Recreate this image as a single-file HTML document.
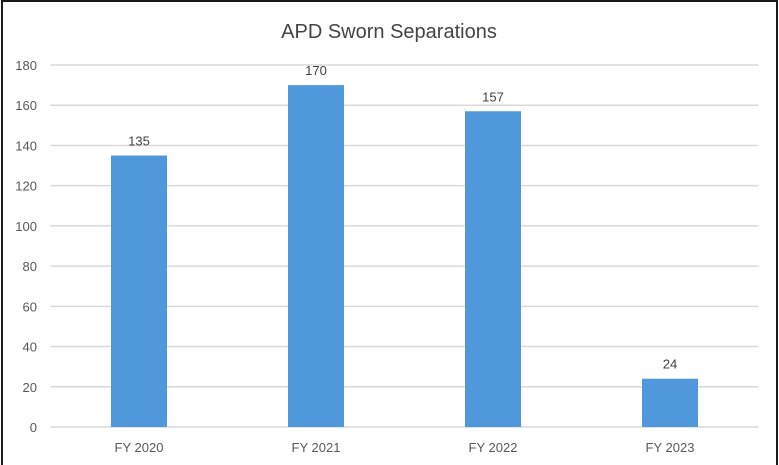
<!DOCTYPE html>
<html><head><meta charset="utf-8"><style>
html,body{margin:0;padding:0;background:#fff;}
svg{display:block;font-family:"Liberation Sans",sans-serif;}
</style></head><body>
<svg id="chart" width="779" height="465">
<rect x="2" y="1" width="775" height="470" fill="#fff" stroke="#1a1a1a" stroke-width="2"/>
<text x="389" y="38" text-anchor="middle" font-size="20" fill="#444">APD Sworn Separations</text>
<g id="grid"></g><g id="bars"></g><g id="labels"></g>
</svg>
<script>
const categories = ["FY 2020","FY 2021","FY 2022","FY 2023"];
const values = [135,170,157,24];
const yTicks = [0,20,40,60,80,100,120,140,160,180];
const svg = document.getElementById('chart');
const NS = 'http://www.w3.org/2000/svg';
const left = 50.5, right = 758.5, y0 = 427, yTop = 65, yMax = 180;
const y = v => y0 - (y0 - yTop) * v / yMax;
const band = (right - left) / categories.length;
const x = i => left + band * (i + 0.5);
function mk(tag, attrs, parent, text) {
  const e = document.createElementNS(NS, tag);
  for (const k in attrs) e.setAttribute(k, attrs[k]);
  if (text !== undefined) e.textContent = text;
  document.getElementById(parent).appendChild(e);
  return e;
}
yTicks.forEach(t => {
  const l = mk('line', {x1: left, x2: right, y1: y(t), y2: y(t), stroke: '#d9d9d9', 'stroke-width': 1.5}, 'grid');
  
  
  const tx = mk('text', {x: 37, y: y(t) + 5, 'text-anchor': 'end', 'font-size': 13, fill: '#595959'}, 'labels', t);
  
  
});
const bw = 56;
categories.forEach((c, i) => {
  const v = values[i];
  const r = mk('rect', {x: x(i) - bw / 2, y: y(v), width: bw, height: y0 - y(v), fill: '#4f98dc'}, 'bars');
  
  
  const vl = mk('text', {x: x(i), y: y(v) - 10, 'text-anchor': 'middle', 'font-size': 13, fill: '#404040'}, 'labels', v);
  
  
  const cl = mk('text', {x: x(i), y: 452, 'text-anchor': 'middle', 'font-size': 13, fill: '#595959'}, 'labels', c);
  
  
});
</script>
</body></html>
